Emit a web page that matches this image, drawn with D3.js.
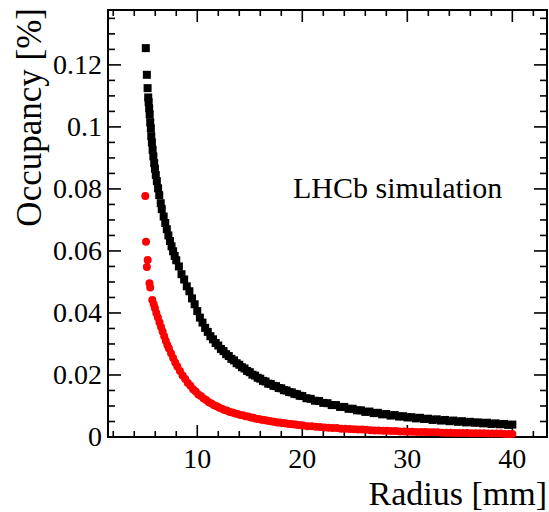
<!DOCTYPE html>
<html>
<head>
<meta charset="utf-8">
<script src="https://cdn.jsdelivr.net/npm/d3@7"></script>
<style>
  body { margin: 0; background: #fff; }
</style>
</head>
<body>
<div class="vis-occupancy"></div>
<script>
// [radius in mm, occupancy in %]
const blackPoints = [
    [5.10, 0.1254], [5.20, 0.1168], [5.27, 0.1125], [5.33, 0.1095], [5.37, 0.1080], [5.42, 0.1060],
    [5.47, 0.1040], [5.52, 0.1015], [5.58, 0.0995], [5.62, 0.0970], [5.68, 0.0950], [5.75, 0.0926],
    [5.82, 0.0905], [5.90, 0.0883], [5.97, 0.0865], [6.05, 0.0845], [6.15, 0.0825], [6.27, 0.0802],
    [6.38, 0.0780], [6.52, 0.0754], [6.62, 0.0735], [6.80, 0.0711], [6.95, 0.0690], [7.10, 0.0670],
    [7.25, 0.0650], [7.40, 0.0632], [7.55, 0.0615], [7.70, 0.0599], [7.85, 0.0584], [8.00, 0.0570],
    [8.25, 0.0550], [8.50, 0.0525], [8.75, 0.0508], [9.00, 0.0486], [9.25, 0.0470], [9.50, 0.0447],
    [9.75, 0.0428], [10.00, 0.0406], [10.25, 0.0385], [10.50, 0.0369], [10.75, 0.0352], [11.00, 0.0339],
    [11.25, 0.0325], [11.50, 0.0315], [11.75, 0.0303], [12.00, 0.0295], [12.25, 0.0284], [12.50, 0.0277],
    [12.75, 0.0267], [13.00, 0.0261], [13.25, 0.0252], [13.50, 0.0247], [13.75, 0.0238], [14.00, 0.0233],
    [14.25, 0.0225], [14.50, 0.0221], [14.75, 0.0213], [15.00, 0.0209], [15.25, 0.0201], [15.50, 0.0198],
    [15.75, 0.0191], [16.00, 0.0188], [16.25, 0.0181], [16.50, 0.0179], [16.75, 0.0172], [17.00, 0.0171],
    [17.25, 0.0165], [17.50, 0.0164], [17.75, 0.0158], [18.00, 0.0157], [18.25, 0.0151], [18.50, 0.0150],
    [18.75, 0.0145], [19.00, 0.0144], [19.25, 0.0139], [19.50, 0.0138], [19.75, 0.0133], [20.00, 0.0132],
    [20.4, 0.0125], [20.8, 0.0123], [21.2, 0.0117], [21.6, 0.0116], [22.0, 0.0110], [22.4, 0.0109],
    [22.8, 0.0103], [23.2, 0.0103], [23.6, 0.0097], [24.0, 0.0097], [24.4, 0.0091], [24.8, 0.0091],
    [25.2, 0.0086], [25.6, 0.0086], [26.0, 0.0081], [26.4, 0.0082], [26.8, 0.0077], [27.2, 0.0078],
    [27.6, 0.0073], [28.0, 0.0074], [28.4, 0.0069], [28.8, 0.0071], [29.2, 0.0066], [29.6, 0.0067],
    [30.0, 0.0063], [30.4, 0.0064], [30.8, 0.0060], [31.2, 0.0062], [31.6, 0.0058], [32.0, 0.0059],
    [32.4, 0.0055], [32.8, 0.0057], [33.2, 0.0053], [33.6, 0.0055], [34.0, 0.0051], [34.4, 0.0053],
    [34.8, 0.0049], [35.2, 0.0051], [35.6, 0.0047], [36.0, 0.0049], [36.4, 0.0046], [36.8, 0.0047],
    [37.2, 0.0044], [37.6, 0.0046], [38.0, 0.0042], [38.4, 0.0044], [38.8, 0.0041], [39.2, 0.0042],
    [39.6, 0.0039], [40.0, 0.0040]
];

const redPoints = [
    [5.05, 0.0777], [5.12, 0.0630], [5.20, 0.0548], [5.28, 0.0571], [5.45, 0.0496], [5.52, 0.0482],
    [5.72, 0.0442], [5.85, 0.0428], [5.97, 0.0415], [6.10, 0.0400], [6.25, 0.0385], [6.40, 0.0370],
    [6.55, 0.0355], [6.70, 0.0340], [6.85, 0.0325], [7.00, 0.0310], [7.15, 0.0297], [7.30, 0.0285],
    [7.50, 0.0270], [7.70, 0.0255], [7.90, 0.0240], [8.10, 0.0227], [8.35, 0.0213], [8.60, 0.0198],
    [8.85, 0.0187], [9.10, 0.0174], [9.35, 0.0165], [9.60, 0.0154], [9.85, 0.0147], [10.10, 0.0137],
    [10.35, 0.0132], [10.60, 0.0124], [10.85, 0.0119], [11.10, 0.0112], [11.35, 0.0108], [11.60, 0.0102],
    [11.85, 0.0099], [12.10, 0.0094], [12.35, 0.0091], [12.60, 0.0087], [12.85, 0.0085], [13.10, 0.0081],
    [13.35, 0.0079], [13.60, 0.0076], [13.85, 0.0074], [14.10, 0.0071], [14.35, 0.0070], [14.60, 0.0067],
    [14.85, 0.0066], [15.10, 0.0063], [15.35, 0.0062], [15.60, 0.0059], [15.85, 0.0058], [16.10, 0.0056],
    [16.35, 0.0055], [16.60, 0.0053], [16.85, 0.0052], [17.10, 0.0050], [17.35, 0.0049], [17.60, 0.0047],
    [17.85, 0.0047], [18.10, 0.0045], [18.35, 0.0044], [18.60, 0.0043], [18.85, 0.0042], [19.10, 0.0041],
    [19.35, 0.0040], [19.60, 0.0039], [19.85, 0.0038], [20.10, 0.0037], [20.5, 0.0035], [20.9, 0.0035],
    [21.3, 0.0033], [21.7, 0.0032], [22.1, 0.0031], [22.5, 0.0030], [22.9, 0.0029], [23.3, 0.0029],
    [23.7, 0.0027], [24.1, 0.0027], [24.5, 0.0026], [24.9, 0.0025], [25.3, 0.0024], [25.7, 0.0024],
    [26.1, 0.0023], [26.5, 0.0022], [26.9, 0.0021], [27.3, 0.0021], [27.7, 0.0020], [28.1, 0.0020],
    [28.5, 0.0019], [28.9, 0.0019], [29.3, 0.0018], [29.7, 0.0018], [30.1, 0.0017], [30.5, 0.0017],
    [30.9, 0.0016], [31.3, 0.0016], [31.7, 0.0016], [32.1, 0.0015], [32.5, 0.0015], [32.9, 0.0015],
    [33.3, 0.0014], [33.7, 0.0014], [34.1, 0.0014], [34.5, 0.0013], [34.9, 0.0013], [35.3, 0.0013],
    [35.7, 0.0013], [36.1, 0.0012], [36.5, 0.0012], [36.9, 0.0012], [37.3, 0.0012], [37.7, 0.0011],
    [38.1, 0.0011], [38.5, 0.0011], [38.9, 0.0011], [39.3, 0.0010], [39.7, 0.0010], [40.0, 0.0010]
];

const xTicks = [10, 20, 30, 40];
const yTicks = [0, 0.02, 0.04, 0.06, 0.08, 0.1, 0.12];
const xLabel = "Radius [mm]";
const yLabel = "Occupancy [%]";
const note = "LHCb simulation";

// pick the first serif face that is really installed
const pickFont = () => {
    const ctx = document.createElement("canvas").getContext("2d");
    const probe = "Occupancy [%] LHCb 0.123";
    const widthOf = f => { ctx.font = `40px ${f}`; return ctx.measureText(probe).width; };
    const mono = widthOf("monospace"), sans = widthOf("sans-serif");
    const candidates = ["Liberation Serif", "Tinos", "Times New Roman", "Times", "Nimbus Roman",
        "Nimbus Roman No9 L", "FreeSerif", "Noto Serif", "DejaVu Serif"];
    for (const c of candidates) {
        const a = widthOf(`"${c}", monospace`), b = widthOf(`"${c}", sans-serif`);
        if (a === b && a !== mono) return `"${c}"`;
    }
    return "serif";
};
const font = pickFont();

const W = 549, H = 512;
const margin = {top: 10, right: 2, bottom: 75, left: 108};
const width = W - margin.left - margin.right;
const height = H - margin.top - margin.bottom;

const svg = d3.select('.vis-occupancy')
    .append("svg")
    .attr("width", W)
    .attr("height", H)
    .style("font-family", font);

const g = svg.append("g")
    .attr("transform", `translate(${margin.left},${margin.top})`);

const x = d3.scaleLinear().domain([1.5, 43.3]).range([0, width]);
const y = d3.scaleLinear().domain([0, 0.1377]).range([height, 0]);

const xMinor = d3.range(2, 43.3, 2).filter(v => v % 10 !== 0);
const yMinor = d3.range(0.005, 0.1377, 0.005).filter(v => Math.abs(v / 0.02 - Math.round(v / 0.02)) > 1e-6);

// ticks point inward, ROOT style
const axes = g.append("g").attr("class", "axis");
const tick = (x1, y1, x2, y2) => axes.append("line")
    .attr("x1", x1).attr("y1", y1).attr("x2", x2).attr("y2", y2)
    .attr("stroke", "#000").attr("stroke-width", 1.6);

xTicks.forEach(v => { tick(x(v), height, x(v), height - 12); tick(x(v), 0, x(v), 12); });
xMinor.forEach(v => { tick(x(v), height, x(v), height - 6); tick(x(v), 0, x(v), 6); });
yTicks.forEach(v => { tick(0, y(v), 13, y(v)); tick(width, y(v), width - 13, y(v)); });
yMinor.forEach(v => { tick(0, y(v), 7, y(v)); tick(width, y(v), width - 7, y(v)); });

axes.append("rect")
    .attr("width", width)
    .attr("height", height)
    .attr("fill", "none")
    .attr("stroke", "#000")
    .attr("stroke-width", 2);

axes.selectAll(".xlab")
    .data(xTicks)
    .enter().append("text")
    .attr("x", d => x(d))
    .attr("y", height + 31)
    .attr("text-anchor", "middle")
    .attr("font-size", 28)
    .text(d => d);

axes.selectAll(".ylab")
    .data(yTicks)
    .enter().append("text")
    .attr("x", -6)
    .attr("y", d => y(d) + 9)
    .attr("text-anchor", "end")
    .attr("font-size", 28)
    .text(d => d);

svg.append("text")
    .attr("x", 547)
    .attr("y", 505)
    .attr("text-anchor", "end")
    .attr("font-size", 34)
    .text(xLabel);

svg.append("text")
    .attr("transform", "translate(41,8) rotate(-90)")
    .attr("text-anchor", "end")
    .attr("font-size", 35)
    .text(yLabel);

svg.append("text")
    .attr("x", 293)
    .attr("y", 198)
    .attr("font-size", 30)
    .text(note);

/* draw points */
const content = g.append("g").attr("class", "content");

content.append("g")
    .selectAll("circle")
    .data(redPoints)
    .enter().append("circle")
    .attr("r", 4)
    .attr("fill", "#f00")
    .attr("cx", d => x(d[0]))
    .attr("cy", d => y(d[1]));

content.append("g")
    .selectAll("rect")
    .data(blackPoints)
    .enter().append("rect")
    .attr("width", 8)
    .attr("height", 8)
    .attr("fill", "#000")
    .attr("x", d => x(d[0]) - 4)
    .attr("y", d => y(d[1]) - 4);
</script>
</body>
</html>
